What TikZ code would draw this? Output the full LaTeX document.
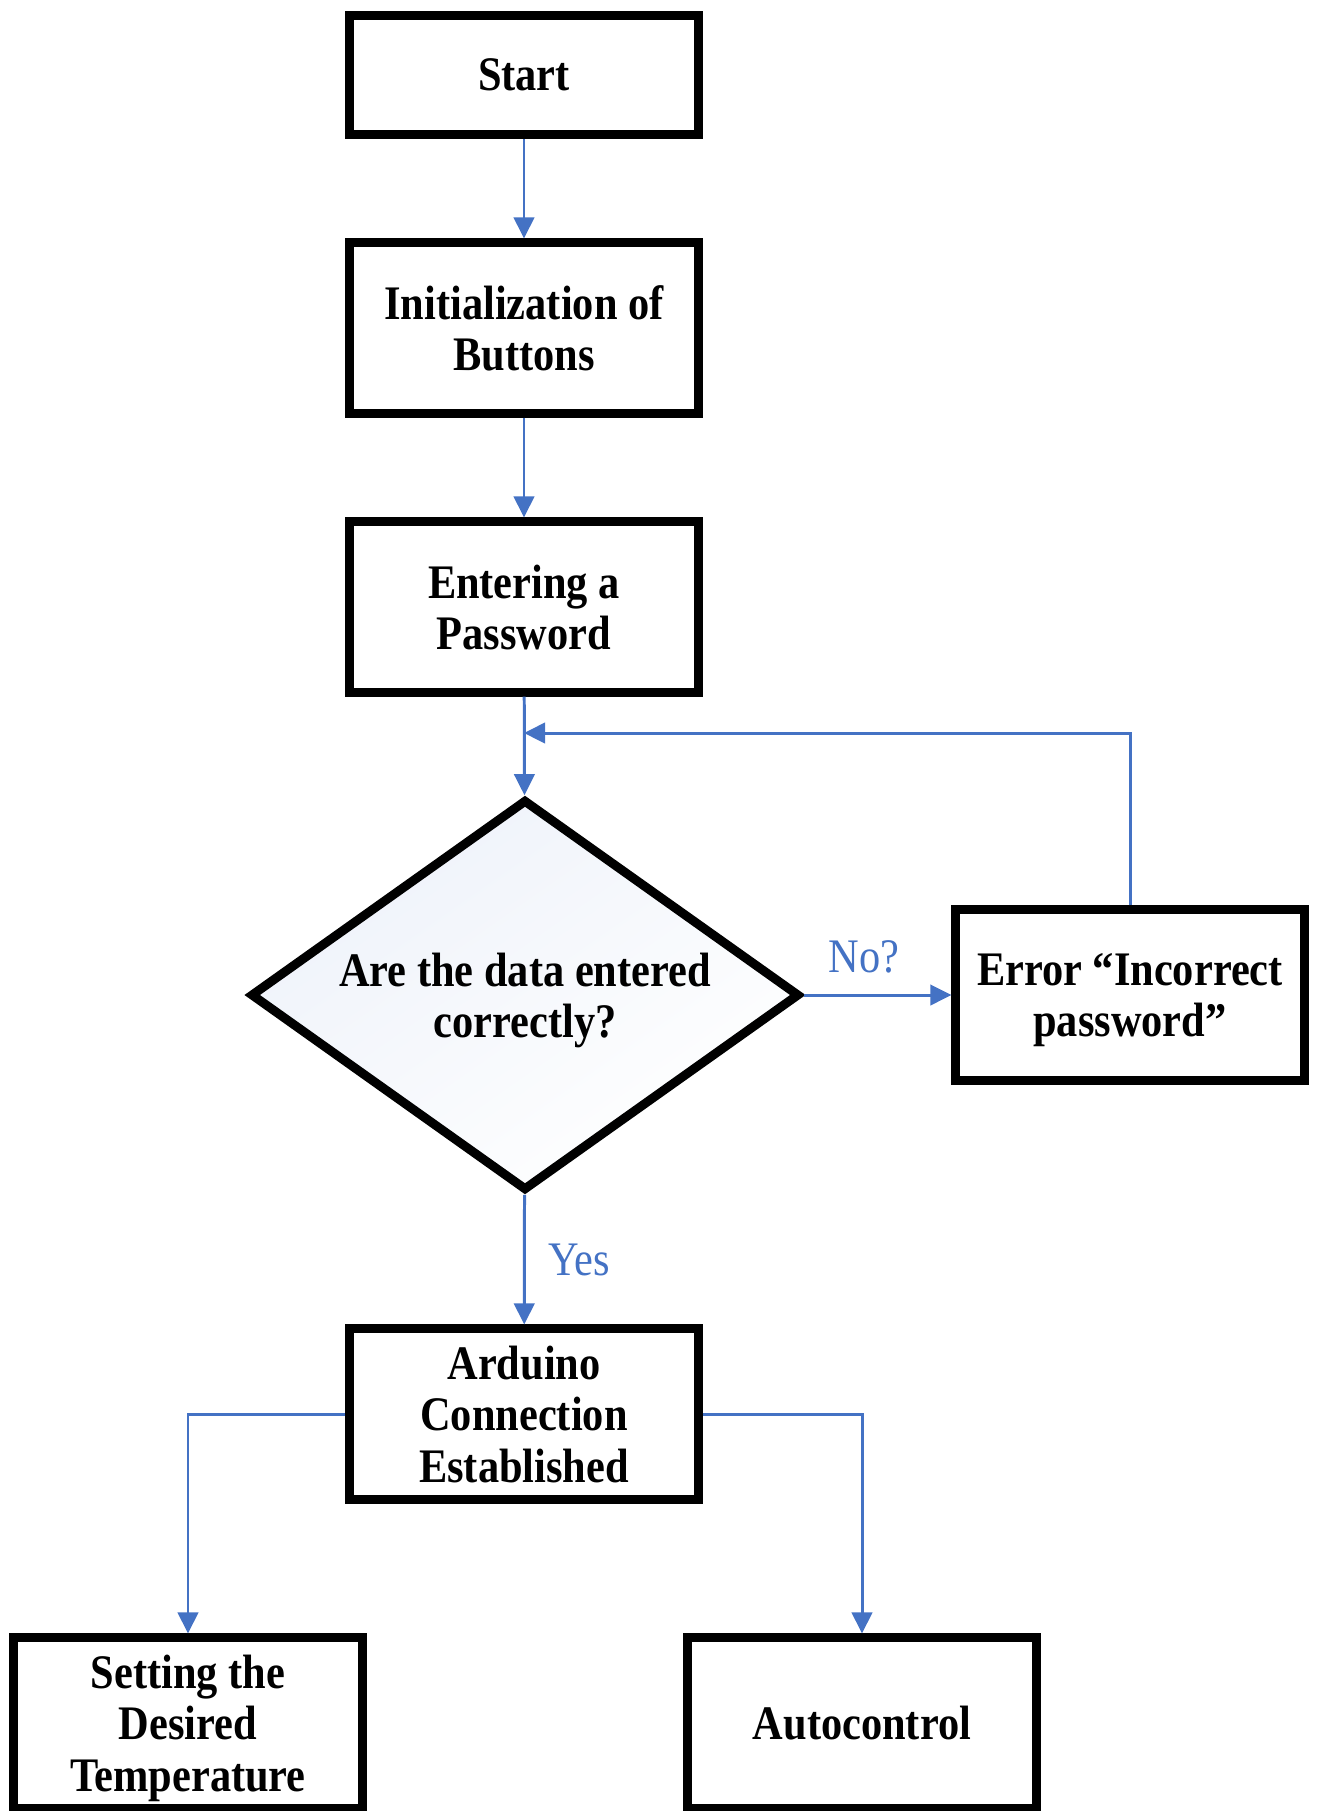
\documentclass[tikz,border=0pt]{standalone}
\usepackage{fontspec}
\setmainfont{Liberation Serif}[FakeStretch=0.88]
\usetikzlibrary{shapes.geometric, arrows.meta}
\definecolor{flowblue}{HTML}{4472C4}

\begin{document}
\begin{tikzpicture}[x=0.01cm, y=-0.01cm,
    box/.style={draw, line width=2.55pt, minimum width=3.48cm, minimum height=1.70cm,
      align=center, inner sep=2pt, text depth=0pt, font=\bfseries\fontsize{13.7pt}{14.6pt}\selectfont},
    decision/.style={diamond, aspect=1.40, draw, line width=2.55pt, minimum width=5.49cm, minimum height=3.91cm,
      inner sep=0pt, align=center, text depth=0pt, top color=flowblue!9!white, bottom color=white, shading angle=35,
      font=\bfseries\fontsize{13.7pt}{14.6pt}\selectfont},
    flow/.style={draw=flowblue, line width=0.85pt, -{Triangle[length=6pt, width=5.8pt]}},
    lbl/.style={text=flowblue, font=\fontsize{13.7pt}{14.6pt}\selectfont}]
  % password check flow
    \useasboundingbox (0,0) rectangle (1317,1811);

    \node[box, minimum height=1.19cm] (start) at (524,75) {Start};
    \node[box] (init) at (524,328) {Initialization of\\Buttons};
    \node[box] (pass) at (524,607) {Entering a\\Password};
    \node[decision] (check) at (525,995) {Are the data entered\\correctly?};
    \node[box] (error) at (1130,995) {Error “Incorrect\\password”};
    \node[box] (arduino) at (524,1414) {Arduino\\Connection\\Established};
    \node[box] (setting) at (188,1723) {Setting the\\Desired\\Temperature};
    \node[box] (auto) at (862,1723) {Autocontrol};

    \coordinate (join) at (524,733);

    \draw[flow] (start) -- (init);
    \draw[flow] (init) -- (pass);
    \draw[flow] (pass) -- (check);
    \draw[flow] (check.east) -- (check.east -| error.west);
    \draw[flow] (error.north) |- (join);
    \draw[flow] (check) -- (arduino);
    \draw[flow] (arduino.west) -| (setting.north);
    \draw[flow] (arduino.east) -| (auto.north);

    \node[lbl] (no) at (864,957) {No?};
    \node[lbl] (yes) at (579,1260) {Yes};
  \end{tikzpicture}
\end{document}
